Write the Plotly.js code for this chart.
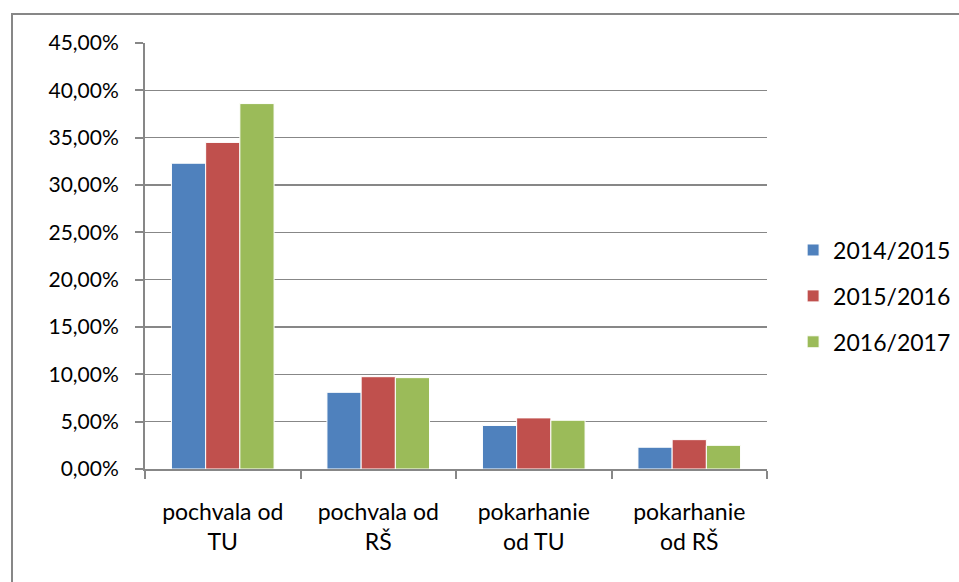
<!DOCTYPE html>
<html>
<head>
<meta charset="utf-8">
<script src="https://cdn.plot.ly/plotly-3.0.1.min.js"></script>
<style>
html,body{margin:0;padding:0;background:#fff;}
#wrap{position:relative;width:959px;height:582px;overflow:hidden;}
#frame{position:absolute;left:11px;top:13px;width:1000px;height:700px;border-left:2px solid #878787;border-top:2px solid #878787;box-sizing:border-box;pointer-events:none;}
#chart{position:absolute;left:0;top:0;width:959px;height:582px;}
</style>
</head>
<body>
<div id="wrap">
<div id="chart"></div>
<div id="frame"></div>
</div>
<script>
const categories = ["pochvala od<br>TU", "pochvala od<br>RŠ", "pokarhanie<br>od TU", "pokarhanie<br>od RŠ"];
const seriesNames = ["2014/2015", "2015/2016", "2016/2017"];
const values2014 = [0.323, 0.081, 0.046, 0.023];
const values2015 = [0.345, 0.0975, 0.054, 0.031];
const values2016 = [0.386, 0.0965, 0.0515, 0.025];
const colors = ["#4F81BD", "#C0504D", "#9BBB59"];
const yTicks = [0, 0.05, 0.10, 0.15, 0.20, 0.25, 0.30, 0.35, 0.40, 0.45];

const allValues = [values2014, values2015, values2016];
const FONT = "Lato, 'Open Sans', sans-serif";

const traces = allValues.map((v, i) => ({
  type: "bar",
  name: seriesNames[i],
  x: categories,
  y: v,
  legendgroup: "g" + i,
  marker: {color: colors[i], line: {color: "#ffffff", width: 1}},
  hoverinfo: "skip"
}));

const layout = {
  width: 959,
  height: 582,
  margin: {l: 145, r: 192, t: 43, b: 113, autoexpand: false},
  paper_bgcolor: "#ffffff",
  plot_bgcolor: "#ffffff",
  barmode: "group",
  bargap: 0.34,
  bargroupgap: 0,
  separators: ", ",
  font: {family: FONT, size: 21, color: "#000000"},
  showlegend: true,
  legend: {
    x: 1.042, xanchor: "left", xref: "paper",
    y: 0.406, yanchor: "middle",
    font: {family: FONT, size: 23, color: "#000000"},
    tracegroupgap: 13,
    itemwidth: 30,
    bgcolor: "rgba(0,0,0,0)"
  },
  xaxis: {
    type: "category",
    showgrid: false,
    showline: true,
    linecolor: "#878787",
    linewidth: 2,
    ticks: "outside",
    tickson: "boundaries",
    ticklen: 8,
    tickwidth: 2,
    tickcolor: "#878787",
    tickfont: {family: FONT, size: 23, color: "#000000"},
    ticklabelstandoff: 21,
    fixedrange: true
  },
  yaxis: {
    range: [0, 0.45],
    tickvals: yTicks,
    tickformat: ".2%",
    showgrid: true,
    gridcolor: "#878787",
    gridwidth: 1.5,
    showline: true,
    linecolor: "#878787",
    linewidth: 2,
    ticks: "outside",
    ticklen: 8,
    tickwidth: 2,
    tickcolor: "#878787",
    zeroline: false,
    tickfont: {family: FONT, size: 21, color: "#000000"},
    ticklabelstandoff: 12,
    fixedrange: true
  }
};

Plotly.newPlot("chart", traces, layout, {staticPlot: true, displayModeBar: false});
</script>
</body>
</html>
